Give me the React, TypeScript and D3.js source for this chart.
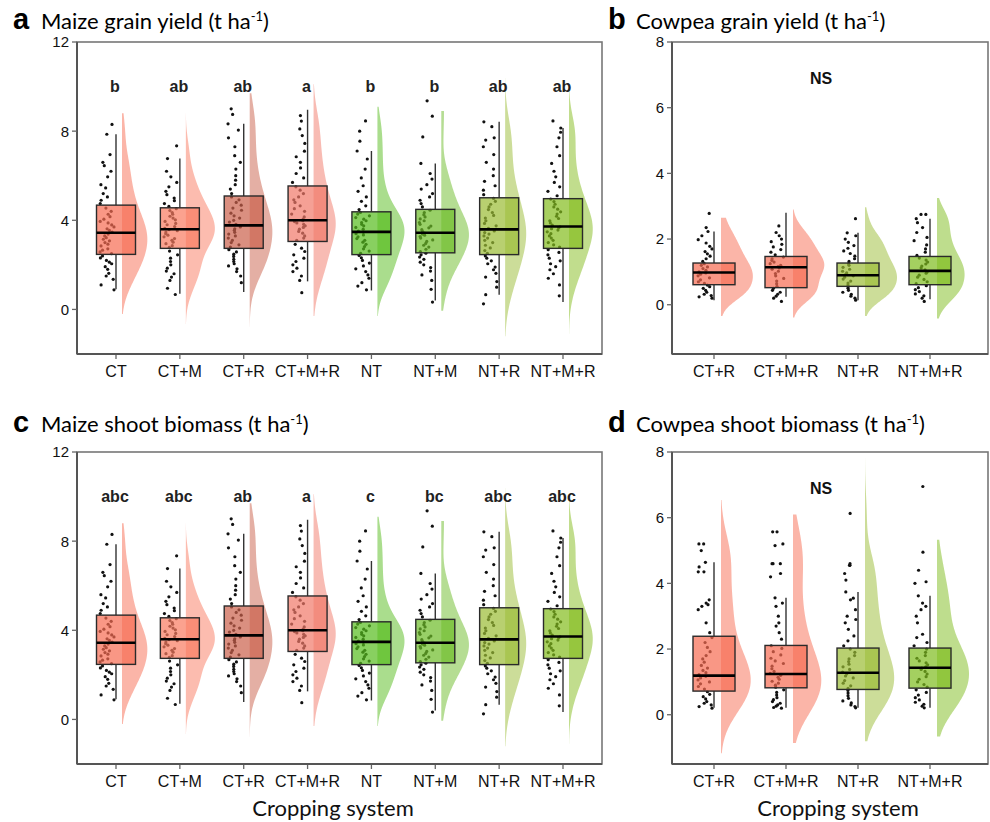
import React from "react";
import * as d3 from "d3";

// categories
const maizeSystems = ["CT", "CT+M", "CT+R", "CT+M+R", "NT", "NT+M", "NT+R", "NT+M+R"];
const cowpeaSystems = ["CT+R", "CT+M+R", "NT+R", "NT+M+R"];

const maizeColors = ["#F76B51", "#F97A60", "#CA604A", "#F17768", "#55BC1C", "#6CBC27", "#9ABC33", "#83BC1C"];
const cowpeaColors = ["#F76B51", "#F76B51", "#9ABC33", "#7DBC1C"];

const maizeTicks = [0, 4, 8, 12];
const cowpeaTicks = [0, 2, 4, 6, 8];

// maize box statistics (grain yield and shoot biomass panels show the same distributions)
const maizeQ1 = [2.47, 2.74, 2.74, 3.05, 2.46, 2.54, 2.46, 2.74];
const maizeMedian = [3.44, 3.6, 3.77, 4.0, 3.48, 3.44, 3.59, 3.72];
const maizeQ3 = [4.68, 4.56, 5.09, 5.54, 4.38, 4.49, 5.01, 4.97];
const maizeWhiskerLo = [0.91, 0.7, 0.78, 1.26, 0.85, 0.4, 0.66, 0.33];
const maizeWhiskerHi = [7.86, 6.77, 8.33, 8.96, 7.11, 6.55, 8.42, 8.14];
const maizeDensityLo = [-0.2, -0.65, -0.78, -0.3, -0.29, -0.06, -1.2, -1.1];
const maizeDensityHi = [8.8, 8.8, 9.7, 10.1, 9.1, 8.9, 10.4, 10.0];

const maizePoints = [
  [0.88, 1.1, 1.35, 1.5, 1.62, 1.8, 1.92, 2.05, 2.12, 2.2, 2.31, 2.4, 2.5, 2.58, 2.66, 2.72, 2.85, 2.93, 3.0, 3.08, 3.15, 3.22, 3.3, 3.38,
    3.47, 3.55, 3.62, 3.7, 3.79, 3.88, 3.95, 4.05, 4.16, 4.27, 4.4, 4.55, 4.75, 4.9, 5.05, 5.2, 5.45, 5.6, 5.95, 6.2, 6.45, 6.6, 6.95, 7.86, 8.3],
  [0.67, 0.95, 1.3, 1.45, 1.6, 1.72, 1.85, 2.0, 2.15, 2.3, 2.45, 2.62, 2.78, 2.86, 2.95, 3.02, 3.1, 3.18, 3.26, 3.33, 3.4, 3.47, 3.53, 3.58,
    3.64, 3.72, 3.8, 3.86, 3.95, 4.02, 4.1, 4.18, 4.27, 4.35, 4.44, 4.52, 4.62, 4.75, 4.88, 5.0, 5.15, 5.3, 5.5, 5.7, 5.95, 6.2, 6.77, 7.34],
  [1.2, 1.5, 1.7, 1.82, 1.95, 2.05, 2.15, 2.25, 2.38, 2.48, 2.58, 2.68, 2.8, 2.9, 3.0, 3.1, 3.2, 3.3, 3.38, 3.46, 3.55, 3.62, 3.7, 3.75,
    3.82, 3.92, 4.0, 4.1, 4.2, 4.32, 4.45, 4.55, 4.68, 4.8, 4.92, 5.05, 5.2, 5.4, 5.6, 5.8, 6.0, 6.3, 6.6, 6.9, 7.3, 7.7, 8.05, 8.33, 8.75, 9.0],
  [0.75, 1.3, 1.5, 1.7, 1.85, 2.0, 2.15, 2.3, 2.45, 2.6, 2.75, 2.92, 3.1, 3.2, 3.3, 3.42, 3.5, 3.6, 3.68, 3.75, 3.82, 3.88, 3.94, 3.98,
    4.05, 4.15, 4.28, 4.4, 4.52, 4.65, 4.8, 4.92, 5.05, 5.2, 5.35, 5.5, 5.7, 5.9, 6.1, 6.35, 6.6, 6.85, 7.1, 7.45, 7.8, 8.1, 8.45, 8.7],
  [0.88, 1.05, 1.2, 1.4, 1.55, 1.7, 1.82, 1.95, 2.08, 2.2, 2.32, 2.42, 2.52, 2.62, 2.72, 2.82, 2.92, 3.02, 3.1, 3.18, 3.26, 3.34, 3.4, 3.46,
    3.52, 3.6, 3.68, 3.75, 3.82, 3.9, 3.98, 4.05, 4.12, 4.2, 4.28, 4.35, 4.48, 4.65, 4.85, 5.05, 5.3, 5.55, 5.9, 6.3, 6.75, 7.11, 7.55, 8.0, 8.46],
  [0.33, 0.9, 1.3, 1.55, 1.72, 1.88, 2.0, 2.12, 2.25, 2.35, 2.45, 2.52, 2.6, 2.7, 2.8, 2.88, 2.96, 3.05, 3.12, 3.2, 3.27, 3.33, 3.38, 3.43,
    3.5, 3.58, 3.66, 3.74, 3.82, 3.9, 3.98, 4.06, 4.15, 4.25, 4.35, 4.45, 4.6, 4.75, 4.9, 5.05, 5.2, 5.4, 5.6, 5.85, 6.1, 6.55, 7.74, 8.67, 9.36],
  [0.25, 0.66, 1.0, 1.25, 1.45, 1.62, 1.78, 1.9, 2.05, 2.18, 2.3, 2.4, 2.52, 2.64, 2.76, 2.88, 3.0, 3.1, 3.2, 3.3, 3.38, 3.45, 3.52, 3.57,
    3.64, 3.75, 3.86, 3.98, 4.1, 4.22, 4.35, 4.48, 4.6, 4.72, 4.85, 4.98, 5.15, 5.35, 5.55, 5.75, 6.0, 6.3, 6.6, 6.95, 7.3, 7.6, 7.7, 8.2, 8.42],
  [0.61, 1.1, 1.4, 1.6, 1.78, 1.92, 2.05, 2.18, 2.3, 2.45, 2.56, 2.68, 2.8, 2.9, 3.0, 3.1, 3.2, 3.3, 3.4, 3.48, 3.56, 3.62, 3.67, 3.71,
    3.78, 3.88, 3.98, 4.08, 4.18, 4.28, 4.38, 4.5, 4.6, 4.72, 4.84, 4.95, 5.1, 5.3, 5.5, 5.7, 5.95, 6.2, 6.55, 6.9, 7.3, 7.7, 7.95, 8.14, 8.46],
];

const grainLetters = ["b", "ab", "ab", "a", "b", "b", "ab", "ab"];
const shootLetters = ["abc", "abc", "ab", "a", "c", "bc", "abc", "abc"];

// cowpea grain yield
const cgQ1 = [0.61, 0.52, 0.56, 0.61];
const cgMedian = [0.98, 1.14, 0.9, 1.03];
const cgQ3 = [1.27, 1.47, 1.27, 1.47];
const cgWhiskerLo = [0.14, 0.24, 0.14, 0.17];
const cgWhiskerHi = [2.23, 2.8, 2.19, 2.62];
const cgDensityLo = [-0.34, -0.39, -0.34, -0.42];
const cgDensityHi = [2.65, 2.9, 2.97, 3.25];
const cgPoints = [
  [0.2, 0.24, 0.28, 0.32, 0.38, 0.44, 0.5, 0.55, 0.6, 0.65, 0.7, 0.76, 0.82, 0.88, 0.93, 0.97, 1.0, 1.05, 1.1, 1.15, 1.2, 1.25,
    1.32, 1.4, 1.48, 1.55, 1.62, 1.7, 1.78, 1.88, 1.98, 2.1, 2.23, 2.35, 2.78],
  [0.1, 0.2, 0.26, 0.32, 0.38, 0.44, 0.5, 0.56, 0.64, 0.72, 0.8, 0.88, 0.95, 1.02, 1.08, 1.12, 1.16, 1.2, 1.25, 1.3, 1.35, 1.4,
    1.45, 1.52, 1.6, 1.68, 1.76, 1.84, 1.92, 2.0, 2.1, 2.2, 2.4],
  [0.14, 0.2, 0.26, 0.32, 0.38, 0.44, 0.5, 0.55, 0.6, 0.66, 0.72, 0.78, 0.84, 0.88, 0.92, 0.97, 1.02, 1.08, 1.14, 1.2, 1.25,
    1.32, 1.4, 1.48, 1.56, 1.64, 1.72, 1.8, 1.9, 2.0, 2.1, 2.19, 2.62],
  [0.1, 0.2, 0.27, 0.33, 0.4, 0.46, 0.52, 0.58, 0.64, 0.7, 0.77, 0.84, 0.9, 0.96, 1.0, 1.06, 1.12, 1.18, 1.24, 1.3, 1.36, 1.42,
    1.5, 1.6, 1.7, 1.82, 1.95, 2.05, 2.2, 2.35, 2.5, 2.62, 2.75, 2.75],
];

// cowpea shoot biomass
const csQ1 = [0.72, 0.82, 0.77, 0.81];
const csMedian = [1.19, 1.24, 1.28, 1.43];
const csQ3 = [2.39, 2.11, 2.03, 2.03];
const csWhiskerLo = [0.21, 0.21, 0.21, 0.21];
const csWhiskerHi = [4.64, 3.56, 3.74, 3.62];
const csDensityLo = [-1.17, -0.86, -0.81, -0.66];
const csDensityHi = [6.54, 6.1, 7.82, 5.33];
const csPoints = [
  [0.2, 0.25, 0.3, 0.35, 0.4, 0.48, 0.55, 0.62, 0.7, 0.78, 0.86, 0.94, 1.0, 1.06, 1.12, 1.17, 1.22, 1.28, 1.35, 1.42, 1.5, 1.6,
    1.7, 1.8, 1.92, 2.05, 2.2, 2.35, 2.5, 2.8, 3.2, 3.3, 3.35, 3.4, 3.5, 4.35, 4.35, 4.5, 4.64, 5.0, 5.2, 5.2],
  [0.2, 0.22, 0.26, 0.3, 0.35, 0.4, 0.46, 0.52, 0.6, 0.68, 0.76, 0.84, 0.9, 0.96, 1.02, 1.08, 1.14, 1.2, 1.26, 1.32, 1.4, 1.48,
    1.56, 1.64, 1.72, 1.82, 1.92, 2.02, 2.1, 2.3, 2.5, 2.7, 2.8, 3.0, 3.3, 3.4, 3.56, 4.2, 4.3, 4.6, 4.6, 4.6, 5.15, 5.2, 5.57, 5.57],
  [0.21, 0.25, 0.3, 0.36, 0.42, 0.5, 0.58, 0.66, 0.74, 0.8, 0.88, 0.96, 1.04, 1.12, 1.18, 1.24, 1.3, 1.38, 1.46, 1.54, 1.62, 1.7,
    1.8, 1.9, 2.0, 2.1, 2.25, 2.4, 2.6, 2.8, 2.9, 3.0, 3.2, 3.5, 3.55, 3.74, 4.1, 4.3, 4.55, 4.55, 4.6, 6.13],
  [0.21, 0.26, 0.32, 0.38, 0.45, 0.52, 0.6, 0.68, 0.76, 0.84, 0.92, 1.0, 1.08, 1.16, 1.24, 1.32, 1.38, 1.42, 1.46, 1.52, 1.58,
    1.64, 1.72, 1.8, 1.9, 2.0, 2.1, 2.2, 2.35, 2.45, 2.8, 3.0, 3.2, 3.3, 3.4, 3.62, 4.0, 4.05, 4.4, 4.95, 6.95],
];

const TICK_FONT = "'Liberation Sans', Arial, sans-serif";
const TITLE_FONT = "Lato, 'Open Sans', sans-serif";

function kde(values: number[], lo: number, hi: number) {
  const sorted = values.slice().sort(d3.ascending);
  const sd = d3.deviation(sorted) || 1;
  const iqr = (d3.quantile(sorted, 0.75) as number) - (d3.quantile(sorted, 0.25) as number);
  const bw = 0.9 * Math.min(sd, iqr / 1.34) * Math.pow(sorted.length, -0.2);
  const grid = d3.range(0, 121).map((i) => lo + ((hi - lo) * i) / 120);
  return grid.map((y) => {
    const dens = d3.mean(sorted, (v) => Math.exp(-0.5 * ((y - v) / bw) ** 2) / Math.sqrt(2 * Math.PI)) as number;
    return [y, dens / bw] as [number, number];
  });
}

// horizontal jitter of the strip points (position only)
function jitter(i: number, j: number) {
  const s = Math.sin(j * 12.9898 + i * 78.233) * 43758.5453;
  return s - Math.floor(s);
}

type PanelProps = {
  tag: string;
  title: string;
  titleY: number;
  left: number; top: number; right: number; bottom: number;
  pointRange: [number, number];
  yDomain: [number, number];
  yTicks: number[];
  cats: string[];
  colors: string[];
  q1: number[]; med: number[]; q3: number[];
  wLo: number[]; wHi: number[];
  dLo: number[]; dHi: number[];
  pts: number[][];
  letters?: string[];
  letterValue?: number;
  ns?: number;
  boxHalf: number;
  densOffset: number;
  densWidth: number;
};

function Panel(p: PanelProps) {
  const x = d3.scalePoint<string>().domain(p.cats).range(p.pointRange);
  const y = d3.scaleLinear().domain(p.yDomain).range([p.bottom, p.top]);
  const densities = p.cats.map((_, i) => kde(p.pts[i], p.dLo[i], p.dHi[i]));
  const maxDens = d3.max(densities.flat(), (d) => d[1]) as number;
  const w = d3.scaleLinear().domain([0, maxDens]).range([0, p.densWidth]);

  return (
    <g>
      <text x={p.left - 64} y={p.titleY} fontFamily={TICK_FONT} fontWeight="bold" fontSize={29} fill="#000">{p.tag}</text>
      <text x={p.left - 36} y={p.titleY} fontFamily={TITLE_FONT} fontSize={22} fill="#000">
        {p.title}
        <tspan dy={-8} fontSize={13}>-1</tspan>
        <tspan dy={8}>)</tspan>
      </text>

      {p.cats.map((c, i) => {
        const cx = x(c) as number;
        const base = cx + p.densOffset;
        const area = d3.area<[number, number]>()
          .y((d) => y(d[0]))
          .x0(base)
          .x1((d) => base + w(d[1]))
          .curve(d3.curveMonotoneY);
        return (
          <g key={c}>
            <path d={area(densities[i]) as string} fill={p.colors[i]} fillOpacity={0.5} />
            {p.pts[i].map((v, j) => (
              <circle key={j} cx={cx - 2 - 14 * jitter(i, j)} cy={y(v)} r={1.6} fill="#111" />
            ))}
            <line x1={cx} x2={cx} y1={y(p.wHi[i])} y2={y(p.q3[i])} stroke="#333" strokeWidth={1.4} />
            <line x1={cx} x2={cx} y1={y(p.q1[i])} y2={y(p.wLo[i])} stroke="#333" strokeWidth={1.4} />
            <rect x={cx - p.boxHalf} y={y(p.q3[i])} width={p.boxHalf * 2} height={y(p.q1[i]) - y(p.q3[i])}
              fill={p.colors[i]} fillOpacity={0.7} stroke="#2a2a2a" strokeWidth={1.4} />
            <line x1={cx - p.boxHalf} x2={cx + p.boxHalf} y1={y(p.med[i])} y2={y(p.med[i])} stroke="#000" strokeWidth={2.6} />
            {p.letters && (
              <text x={cx - 1} y={y(p.letterValue as number)} dy="0.35em" textAnchor="middle" fontFamily={TICK_FONT}
                fontWeight="bold" fontSize={16} fill="#222">{p.letters[i]}</text>
            )}
            <line x1={cx} x2={cx} y1={p.bottom} y2={p.bottom + 5} stroke="#666" strokeWidth={1.3} />
            <text x={cx} y={p.bottom + 23} textAnchor="middle" fontFamily={TICK_FONT} fontSize={16} fill="#111">{c}</text>
          </g>
        );
      })}

      {p.ns !== undefined && (
        <text x={(p.left + p.right) / 2 - 9} y={y(p.ns)} dy="0.35em" textAnchor="middle" fontFamily={TICK_FONT}
          fontWeight="bold" fontSize={16} fill="#111">NS</text>
      )}

      <rect x={p.left} y={p.top} width={p.right - p.left} height={p.bottom - p.top} fill="none" stroke="#777" strokeWidth={1.6} />
      <line x1={p.left} x2={p.left} y1={p.top} y2={p.bottom} stroke="#555" strokeWidth={2} />
      <line x1={p.left} x2={p.right} y1={p.bottom} y2={p.bottom} stroke="#555" strokeWidth={2} />
      {p.yTicks.map((t) => (
        <g key={t}>
          <line x1={p.left - 5} x2={p.left} y1={y(t)} y2={y(t)} stroke="#666" strokeWidth={1.3} />
          <text x={p.left - 8} y={y(t)} dy="0.36em" textAnchor="end" fontFamily={TICK_FONT} fontSize={15} fill="#111">{t}</text>
        </g>
      ))}
    </g>
  );
}

export default function App() {
  const maizeCommon = {
    left: 77, right: 602, pointRange: [116, 563] as [number, number], yDomain: [-2, 12] as [number, number],
    yTicks: maizeTicks, cats: maizeSystems, colors: maizeColors,
    q1: maizeQ1, med: maizeMedian, q3: maizeQ3, wLo: maizeWhiskerLo, wHi: maizeWhiskerHi,
    dLo: maizeDensityLo, dHi: maizeDensityHi, pts: maizePoints, letterValue: 10,
    boxHalf: 19.5, densOffset: 6, densWidth: 29,
  };
  const cowpeaCommon = {
    left: 672, right: 988, pointRange: [714, 930] as [number, number], yDomain: [-1.5, 8] as [number, number],
    yTicks: cowpeaTicks, cats: cowpeaSystems, colors: cowpeaColors, ns: 6.9,
    boxHalf: 21, densOffset: 7, densWidth: 32,
  };
  return (
    <svg width={990} height={822} style={{ position: "absolute", left: 0, top: 0, background: "#fff" }}>
      <rect width={990} height={822} fill="#fff" />
      <Panel {...maizeCommon} tag="a" title="Maize grain yield (t ha" titleY={29} top={42} bottom={354} letters={grainLetters} />
      <Panel {...maizeCommon} tag="c" title="Maize shoot biomass (t ha" titleY={432} top={452} bottom={764} letters={shootLetters} />
      <Panel {...cowpeaCommon} tag="b" title="Cowpea grain yield (t ha" titleY={29} top={42} bottom={354}
        q1={cgQ1} med={cgMedian} q3={cgQ3} wLo={cgWhiskerLo} wHi={cgWhiskerHi} dLo={cgDensityLo} dHi={cgDensityHi} pts={cgPoints} />
      <Panel {...cowpeaCommon} tag="d" title="Cowpea shoot biomass (t ha" titleY={432} top={452} bottom={764}
        q1={csQ1} med={csMedian} q3={csQ3} wLo={csWhiskerLo} wHi={csWhiskerHi} dLo={csDensityLo} dHi={csDensityHi} pts={csPoints} />
      <text x={333} y={816} textAnchor="middle" fontFamily={TITLE_FONT} fontSize={22} fill="#111">Cropping system</text>
      <text x={838} y={816} textAnchor="middle" fontFamily={TITLE_FONT} fontSize={22} fill="#111">Cropping system</text>
    </svg>
  );
}
